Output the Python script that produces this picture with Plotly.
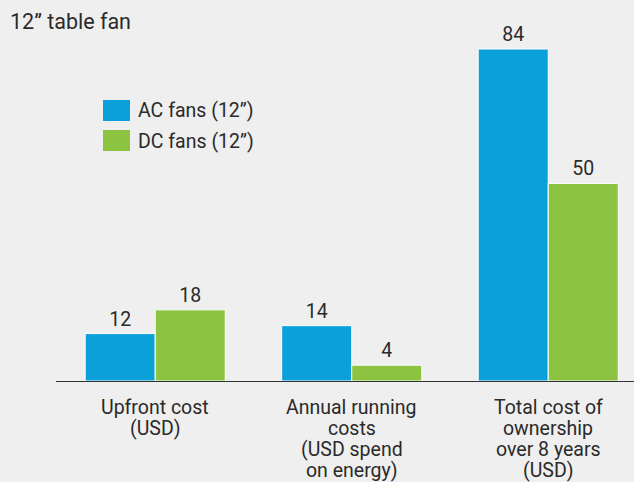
import plotly.graph_objects as go

categories = ["Upfront cost<br>(USD)", "Annual running<br>costs<br>(USD spend<br>on energy)", "Total cost of<br>ownership<br>over 8 years<br>(USD)"]
series_names = ["AC fans (12”)", "DC fans (12”)"]
ac_values = [12, 14, 84]
dc_values = [18, 4, 50]
title_text = "12” table fan"

colors = ["#0ba0da", "#8cc340"]
font_family = "Roboto, 'Open Sans', Arial, sans-serif"
text_color = "#2a2a2a"
fs = 19.5

fig = go.Figure()
for name, vals, col in zip(series_names, [ac_values, dc_values], colors):
    fig.add_trace(go.Bar(
        x=list(range(len(categories))), y=vals, name=name,
        marker=dict(color=col, line=dict(color="white", width=1)),
        text=[str(v) for v in vals], textposition="outside",
        textfont=dict(size=fs, color=text_color, family=font_family),
        cliponaxis=False, showlegend=False,
    ))

W, H = 634, 482
ml, mr, mt, mb = 56, 0, 0, 101
pw, ph = W - ml - mr, H - mt - mb

fig.update_layout(
    width=W, height=H,
    margin=dict(l=ml, r=mr, t=mt, b=mb),
    paper_bgcolor="#efefef", plot_bgcolor="#efefef",
    barmode="group", bargap=0.287, bargroupgap=0,
    font=dict(family=font_family, color=text_color, size=fs),
    xaxis=dict(
        range=[-0.505, -0.505 + pw / 196.5],
        tickmode="array", tickvals=list(range(len(categories))), ticktext=categories,
        showticklabels=False,
        showline=True, linecolor="#333333", linewidth=1,
        ticks="", showgrid=False, zeroline=False,
    ),
    yaxis=dict(range=[0, ph / 3.952], visible=False, showgrid=False),
    showlegend=False,
)

def px_x(px):
    return (px - ml) / pw

def px_y(py):
    return 1 - (py - mt) / ph

# Category labels (tight line spacing)
for i, cat in enumerate(categories):
    for j, line in enumerate(cat.split("<br>")):
        fig.add_annotation(text=line, xref="x", yref="paper",
                           x=i, y=px_y(407 + 21.3 * j), xanchor="center", yanchor="middle",
                           showarrow=False, font=dict(size=fs, color=text_color))

# Title
fig.add_annotation(text=title_text, xref="paper", yref="paper",
                   x=px_x(8), y=px_y(22), xanchor="left", yanchor="middle",
                   showarrow=False, font=dict(size=21.5, color=text_color))

# Custom legend
for i, (name, col) in enumerate(zip(series_names, colors)):
    y0 = 100 + i * 30
    fig.add_shape(type="rect", xref="paper", yref="paper",
                  x0=px_x(103), x1=px_x(130), y0=px_y(y0 + 21), y1=px_y(y0),
                  fillcolor=col, line=dict(width=0))
    fig.add_annotation(text=name, xref="paper", yref="paper",
                       x=px_x(136), y=px_y(y0 + 11), xanchor="left", yanchor="middle",
                       showarrow=False, font=dict(size=fs, color=text_color))

fig.write_html("out.html", config={"displayModeBar": False},
               post_script="document.body.style.margin='0';document.body.style.overflow='hidden';")
